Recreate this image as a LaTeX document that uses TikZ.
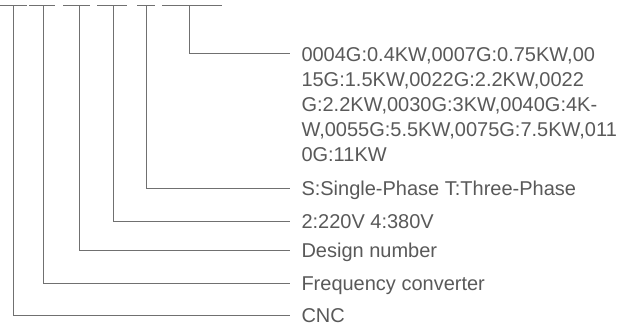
\documentclass[tikz,border=0pt]{standalone}
\usepackage{fontspec}
\setmainfont{Liberation Sans}
\definecolor{linegray}{HTML}{707070}
\definecolor{textgray}{HTML}{595959}
\begin{document}
\begin{tikzpicture}[x=1pt,y=-1pt,line width=1pt,
  conn/.style={draw=linegray},
  seg/.style={draw=linegray},
  lab/.style={anchor=base west,inner sep=0pt,text=textgray,font=\fontsize{20}{25}\selectfont}]
\useasboundingbox (0,0) rectangle (641,324);
% top code segments
\draw[seg] (0,5) -- (27,5);
\draw[seg] (29,5) -- (55,5);
\draw[seg] (63,5) -- (90,5);
\draw[seg] (97,5) -- (127,5);
\draw[seg] (137,5) -- (155,5);
\draw[seg] (162,5) -- (222,5);
% tops of the leader lines
\coordinate (t1) at (13,5);
\coordinate (t2) at (43,5);
\coordinate (t3) at (79,5);
\coordinate (t4) at (113,5);
\coordinate (t5) at (146,5);
\coordinate (t6) at (189,5);
% ends of the leader lines
\coordinate (e1) at (290,315);
\coordinate (e2) at (290,283);
\coordinate (e3) at (290,250);
\coordinate (e4) at (290,221);
\coordinate (e5) at (290,188);
\coordinate (e6) at (290,53);
% labels
\node[lab,align=left] (l6) at (301,161) {0004G:0.4KW,0007G:0.75KW,00\\15G:1.5KW,0022G:2.2KW,0022\\G:2.2KW,0030G:3KW,0040G:4K-\\W,0055G:5.5KW,0075G:7.5KW,011\\0G:11KW};
\node[lab] (l5) at (301,195) {S:Single-Phase T:Three-Phase};
\node[lab] (l4) at (301,228) {2:220V 4:380V};
\node[lab] (l3) at (301,257) {Design number};
\node[lab] (l2) at (301,290) {Frequency converter};
\node[lab] (l1) at (301,322) {CNC};
% connectors
\draw[conn] (t1) |- (e1);
\draw[conn] (t2) |- (e2);
\draw[conn] (t3) |- (e3);
\draw[conn] (t4) |- (e4);
\draw[conn] (t5) |- (e5);
\draw[conn] (t6) |- (e6);
\end{tikzpicture}
\end{document}
